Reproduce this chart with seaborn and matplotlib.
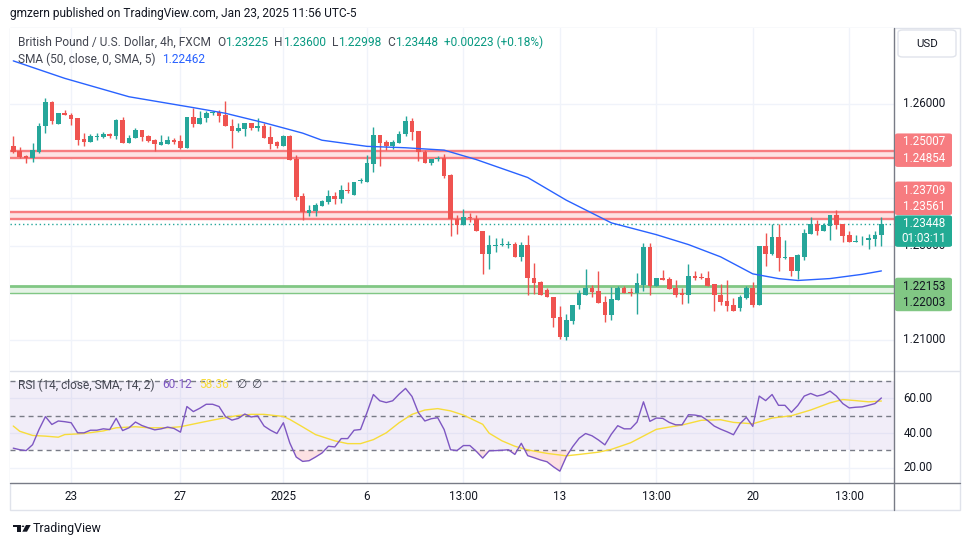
import numpy as np
import pandas as pd
import matplotlib
matplotlib.use("Agg")
import matplotlib.pyplot as plt
from matplotlib.patches import FancyBboxPatch, Rectangle, Polygon, Circle
from matplotlib.lines import Line2D
from matplotlib.transforms import blended_transform_factory
import seaborn as sns

# GBPUSD 4h candles, Dec 20 2024 - Jan 23 2025
opens = [
    1.2510, 1.2500, 1.2489, 1.2485, 1.2497, 1.2553, 1.2603, 1.2557, 1.2580, 1.2577,
    1.2569, 1.2525, 1.2519, 1.2529, 1.2530, 1.2537, 1.2532, 1.2565, 1.2517, 1.2528,
    1.2544, 1.2531, 1.2523, 1.2513, 1.2516, 1.2523, 1.2521, 1.2506, 1.2573, 1.2557,
    1.2571, 1.2580, 1.2582, 1.2577, 1.2554, 1.2542, 1.2546, 1.2559, 1.2548, 1.2554,
    1.2529, 1.2519, 1.2510, 1.2531, 1.2484, 1.2405, 1.2368, 1.2374, 1.2384, 1.2393,
    1.2405, 1.2399, 1.2417, 1.2407, 1.2436, 1.2434, 1.2473, 1.2533, 1.2519, 1.2511,
    1.2517, 1.2536, 1.2563, 1.2542, 1.2499, 1.2475, 1.2483, 1.2486, 1.2449, 1.2357,
    1.2344, 1.2361, 1.2357, 1.2331, 1.2281, 1.2300, 1.2301, 1.2302, 1.2304, 1.2275,
    1.2302, 1.2232, 1.2222, 1.2205, 1.2192, 1.2148, 1.2107, 1.2140, 1.2175, 1.2196,
    1.2211, 1.2203, 1.2180, 1.2153, 1.2184, 1.2211, 1.2201, 1.2199, 1.2217, 1.2297,
    1.2214, 1.2232, 1.2230, 1.2209, 1.2199, 1.2196, 1.2236, 1.2234, 1.2232, 1.2218,
    1.2196, 1.2182, 1.2173, 1.2167, 1.2188, 1.2211, 1.2175, 1.2300, 1.2281, 1.2319,
    1.2274, 1.2276, 1.2247, 1.2276, 1.2325, 1.2346, 1.2331, 1.2342, 1.2365, 1.2346,
    1.2323, 1.2307, 1.2311, 1.2311, 1.2314, 1.23225]
highs = [
    1.2531, 1.2508, 1.2491, 1.2517, 1.2559, 1.2613, 1.2607, 1.2581, 1.2588, 1.2581,
    1.2571, 1.2538, 1.2537, 1.2538, 1.2540, 1.2539, 1.2567, 1.2573, 1.2533, 1.2549,
    1.2544, 1.2535, 1.2525, 1.2535, 1.2531, 1.2528, 1.2533, 1.2573, 1.2592, 1.2584,
    1.2584, 1.2585, 1.2588, 1.2607, 1.2567, 1.2559, 1.2559, 1.2559, 1.2569, 1.2559,
    1.2554, 1.2521, 1.2535, 1.2533, 1.2491, 1.2411, 1.2385, 1.2391, 1.2396, 1.2417,
    1.2413, 1.2429, 1.2434, 1.2434, 1.2443, 1.2491, 1.2550, 1.2533, 1.2523, 1.2523,
    1.2542, 1.2575, 1.2569, 1.2542, 1.2503, 1.2484, 1.2490, 1.2493, 1.2451, 1.2364,
    1.2377, 1.2368, 1.2364, 1.2331, 1.2323, 1.2316, 1.2316, 1.2309, 1.2307, 1.2307,
    1.2323, 1.2264, 1.2224, 1.2211, 1.2192, 1.2171, 1.2154, 1.2175, 1.2205, 1.2251,
    1.2217, 1.2247, 1.2194, 1.2213, 1.2215, 1.2215, 1.2211, 1.2241, 1.2306, 1.2306,
    1.2232, 1.2249, 1.2234, 1.2226, 1.2209, 1.2260, 1.2247, 1.2241, 1.2245, 1.2218,
    1.2218, 1.2228, 1.2188, 1.2196, 1.2215, 1.2222, 1.2300, 1.2327, 1.2346, 1.2346,
    1.2312, 1.2276, 1.2281, 1.2335, 1.2361, 1.2354, 1.2348, 1.2365, 1.2375, 1.2346,
    1.2331, 1.2323, 1.2321, 1.2325, 1.2331, 1.23600]
lows = [
    1.2496, 1.2485, 1.2475, 1.2477, 1.2495, 1.2538, 1.2558, 1.2557, 1.2576, 1.2555,
    1.2513, 1.2511, 1.2519, 1.2524, 1.2528, 1.2528, 1.2525, 1.2517, 1.2517, 1.2528,
    1.2521, 1.2519, 1.2500, 1.2513, 1.2516, 1.2516, 1.2504, 1.2506, 1.2552, 1.2557,
    1.2561, 1.2576, 1.2561, 1.2553, 1.2506, 1.2540, 1.2532, 1.2544, 1.2542, 1.2527,
    1.2504, 1.2506, 1.2510, 1.2481, 1.2396, 1.2353, 1.2363, 1.2363, 1.2384, 1.2387,
    1.2387, 1.2389, 1.2411, 1.2407, 1.2433, 1.2434, 1.2456, 1.2468, 1.2502, 1.2504,
    1.2517, 1.2531, 1.2523, 1.2479, 1.2475, 1.2471, 1.2479, 1.2443, 1.2321, 1.2325,
    1.2344, 1.2349, 1.2330, 1.2239, 1.2251, 1.2287, 1.2298, 1.2294, 1.2275, 1.2267,
    1.2195, 1.2197, 1.2195, 1.2191, 1.2128, 1.2103, 1.2100, 1.2133, 1.2165, 1.2196,
    1.2192, 1.2178, 1.2138, 1.2142, 1.2184, 1.2200, 1.2193, 1.2155, 1.2203, 1.2195,
    1.2214, 1.2228, 1.2208, 1.2190, 1.2176, 1.2178, 1.2228, 1.2230, 1.2215, 1.2161,
    1.2175, 1.2161, 1.2161, 1.2161, 1.2186, 1.2169, 1.2175, 1.2256, 1.2279, 1.2247,
    1.2272, 1.2236, 1.2230, 1.2270, 1.2325, 1.2323, 1.2331, 1.2312, 1.2335, 1.2308,
    1.2307, 1.2307, 1.2302, 1.2293, 1.2300, 1.22998]
closes = [
    1.2498, 1.2488, 1.2485, 1.2502, 1.2554, 1.2603, 1.2563, 1.2580, 1.2576, 1.2567,
    1.2523, 1.2519, 1.2531, 1.2531, 1.2537, 1.2532, 1.2565, 1.2517, 1.2528, 1.2544,
    1.2530, 1.2522, 1.2514, 1.2519, 1.2523, 1.2519, 1.2506, 1.2573, 1.2557, 1.2569,
    1.2580, 1.2582, 1.2575, 1.2553, 1.2542, 1.2548, 1.2559, 1.2548, 1.2554, 1.2527,
    1.2516, 1.2510, 1.2531, 1.2481, 1.2403, 1.2370, 1.2375, 1.2385, 1.2394, 1.2405,
    1.2399, 1.2417, 1.2416, 1.2434, 1.2438, 1.2475, 1.2533, 1.2517, 1.2511, 1.2519,
    1.2537, 1.2563, 1.2540, 1.2499, 1.2475, 1.2484, 1.2486, 1.2448, 1.2356, 1.2344,
    1.2360, 1.2359, 1.2330, 1.2281, 1.2302, 1.2302, 1.2304, 1.2304, 1.2275, 1.2302,
    1.2232, 1.2220, 1.2195, 1.2191, 1.2147, 1.2107, 1.2142, 1.2175, 1.2199, 1.2211,
    1.2201, 1.2178, 1.2153, 1.2186, 1.2211, 1.2200, 1.2199, 1.2220, 1.2297, 1.2214,
    1.2232, 1.2228, 1.2208, 1.2196, 1.2196, 1.2236, 1.2232, 1.2231, 1.2215, 1.2195,
    1.2180, 1.2171, 1.2161, 1.2192, 1.2211, 1.2175, 1.2300, 1.2281, 1.2319, 1.2274,
    1.2276, 1.2247, 1.2279, 1.2327, 1.2346, 1.2331, 1.2344, 1.2365, 1.2344, 1.2321,
    1.2307, 1.2310, 1.2312, 1.2316, 1.2323, 1.23448]

# SMA(50) read at some candles
sma_idx = [0, 8, 18, 28, 33, 39, 45, 48, 55, 61, 67, 72, 80, 86, 93, 100,
           105, 110, 115, 119, 122, 127, 132, 135]
sma_val = [1.2691, 1.2654, 1.2615, 1.2592, 1.2580, 1.2560, 1.2538, 1.2523,
           1.2510, 1.2507, 1.2502, 1.2482, 1.2444, 1.2396, 1.2348, 1.2323,
           1.2302, 1.2276, 1.2240, 1.2230, 1.2226, 1.2230, 1.2239, 1.22462]

# RSI(14), one value per candle
rsi = [
    31.3, 30.4, 29.9, 33.3, 42.0, 49.4, 44.9, 46.9, 46.5, 45.9,
    40.1, 40.1, 41.6, 41.6, 42.4, 42.0, 48.4, 41.4, 43.0, 46.3,
    44.3, 43.0, 41.8, 42.4, 43.4, 42.6, 40.5, 55.2, 52.3, 54.2,
    56.5, 56.5, 55.2, 49.4, 47.4, 48.4, 50.9, 49.2, 49.8, 44.0,
    41.6, 39.7, 45.9, 34.3, 26.2, 23.7, 24.1, 26.2, 28.5, 32.4,
    32.0, 36.8, 36.8, 41.6, 42.0, 51.7, 62.1, 58.5, 57.5, 58.5,
    62.3, 65.6, 61.0, 51.7, 46.9, 48.2, 48.8, 42.0, 30.4, 29.9,
    32.8, 32.8, 29.5, 25.6, 29.8, 29.9, 30.1, 30.4, 27.7, 34.1,
    27.0, 25.8, 24.5, 23.5, 20.6, 18.1, 26.4, 32.2, 37.0, 39.7,
    38.4, 36.0, 33.2, 39.3, 44.2, 42.4, 42.4, 46.3, 57.9, 46.7,
    48.6, 48.4, 46.1, 44.7, 44.7, 50.5, 50.3, 49.6, 47.1, 44.0,
    42.2, 40.7, 39.0, 45.3, 49.0, 43.8, 61.2, 58.6, 62.1, 55.9,
    55.9, 51.9, 55.8, 61.2, 62.7, 61.2, 62.1, 64.1, 61.2, 56.9,
    54.4, 54.8, 55.0, 55.9, 56.9, 60.12]

# SMA(14) of RSI, read at some candles
rsi_ma_idx = [0, 1, 3, 5, 7, 8, 11, 14, 16, 19, 21, 24, 26, 29, 31, 33, 35, 37, 39, 42,
              43, 45, 47, 50, 52, 54, 56, 58, 60, 62, 64, 66, 68, 70, 73, 74, 76, 78, 80, 83,
              86, 88, 91, 93, 96, 100, 102, 104, 107, 110, 112, 115, 118, 121, 124, 127, 129,
              131, 133, 135]
rsi_ma_val = [44.0, 41.0, 38.6, 38.2, 37.6, 39.1, 39.7, 41.2, 43.0, 43.6,
              43.0, 43.0, 43.6, 45.9, 47.4, 48.8, 50.1, 50.7, 50.7, 49.5,
              47.8, 43.5, 39.1, 35.5, 33.9, 33.9, 36.2, 40.1, 45.9, 50.7,
              53.2, 54.0, 52.7, 50.3, 45.0, 39.9, 35.5, 32.4, 30.3, 28.3,
              26.9, 27.7, 29.0, 30.6, 34.4, 42.1, 43.4, 44.6, 47.3, 47.6,
              46.1, 45.3, 48.6, 49.9, 53.2, 57.3, 59.2, 58.6, 57.9, 58.36]

tick_idx = [9, 26, 42, 55, 70, 85, 100, 115, 130]
tick_labels = ["23", "27", "2025", "6", "13:00", "13", "13:00", "20", "13:00"]

red_zone_1 = [1.25007, 1.24854]
red_zone_2 = [1.23709, 1.23561]
green_zone = [1.22153, 1.22003]
last_price = 1.23448
price_ticks = [1.21, 1.22, 1.23, 1.24, 1.25, 1.26]
price_labels_shown = [1.21, 1.23, 1.26]   # the others sit under the coloured tags
rsi_ticks = [20, 40, 60]

UP, DOWN = "#26a69a", "#ef5350"
TXT, GRID, LINE = "#131722", "#f0f3fa", "#787b86"

W, H = 970, 545
sns.set_theme(style="white")
plt.rcParams["font.family"] = ["Roboto", "DejaVu Sans"]

fig = plt.figure(figsize=(W / 100, H / 100), dpi=100)
fig.patch.set_facecolor("white")


def fx(x):
    return x / W


def fy(y):
    return 1 - y / H


ax = fig.add_axes([fx(10), fy(371), fx(894) - fx(10), fy(28) - fy(371)])
rax = fig.add_axes([fx(10), fy(483), fx(894) - fx(10), fy(371) - fy(483)])

for a in (ax, rax):
    a.set_facecolor("white")
    for s in a.spines.values():
        s.set_visible(False)
    a.set_xlim(-0.51, 136.96)
    a.set_xticks(tick_idx)
    a.tick_params(length=0, labelbottom=False, labelleft=False)
    a.grid(True, color=GRID, lw=1)
    a.set_axisbelow(True)

ax.set_ylim(1.20343, 1.27606)
ax.set_yticks(price_ticks)
rax.set_ylim(11.3, 75.6)
rax.set_yticks(rsi_ticks)

# ---- price pane ----
df = pd.DataFrame({"open": opens, "high": highs, "low": lows, "close": closes})
df["i"] = np.arange(len(df))
colors = np.where(df.close >= df.open, UP, DOWN)

ax.axhspan(red_zone_1[1], red_zone_1[0], color="#fde2e3", lw=0, zorder=1)
ax.axhspan(red_zone_2[1], red_zone_2[0], color="#fde2e3", lw=0, zorder=1)
ax.axhspan(green_zone[1], green_zone[0], color="#e5f3e6", lw=0, zorder=1)
for p in red_zone_1 + red_zone_2:
    ax.axhline(p, color="#f77c80", lw=1.7, zorder=2)
ax.axhline(green_zone[0], color="#81c784", lw=2, zorder=2)
ax.axhline(green_zone[1], color="#81c784", lw=1, zorder=2)
ax.axhline(last_price, color=UP, lw=1, ls=(0, (1, 2)), zorder=2)

ax.vlines(df.i, df.low, df.high, colors=colors, lw=1, zorder=3)
body_lo = np.minimum(df.open, df.close)
body_h = np.maximum((df.close - df.open).abs(), 0.00015)
ax.bar(df.i, body_h, bottom=body_lo, width=0.72, color=colors, lw=0, zorder=4)

sns.lineplot(x=sma_idx, y=sma_val, ax=ax, color="#2962ff", lw=1, zorder=5)

# ---- RSI pane ----
rsi_arr = np.array(rsi)
idx = np.arange(len(rsi))
rax.axhspan(30, 70, color="#7e57c2", alpha=0.1, lw=0, zorder=1)
for lvl in (70, 50, 30):
    rax.axhline(lvl, color=LINE, lw=1, ls=(0, (3.6, 2.9)), zorder=2)
rax.fill_between(idx, rsi_arr, 30, where=rsi_arr < 30, interpolate=True,
                 color="#f23645", alpha=0.15, lw=0, zorder=2)
sns.lineplot(x=rsi_ma_idx, y=rsi_ma_val, ax=rax, color="#f7dc3a", lw=1, zorder=3)
sns.lineplot(x=idx, y=rsi_arr, ax=rax, color="#7e57c2", lw=1, zorder=4)

for a in (ax, rax):
    a.set_xlabel("")
    a.set_ylabel("")

# ---- frame ----
fig.add_artist(Rectangle((fx(10), fy(510)), fx(960) - fx(10), fy(28) - fy(510),
                         transform=fig.transFigure, fill=False, ec="#e0e3eb", lw=1, zorder=0))
fig.add_artist(Line2D([fx(10), fx(960)], [fy(371), fy(371)], color="#e0e3eb", lw=1))
fig.add_artist(Line2D([fx(10), fx(960)], [fy(483), fy(483)], color=LINE, lw=1))
fig.add_artist(Line2D([fx(894), fx(894)], [fy(28), fy(510)], color=LINE, lw=1))

# x labels
bt = blended_transform_factory(rax.transData, fig.transFigure)
for i, lab in zip(tick_idx, tick_labels):
    fig.text(i, fy(497), lab, transform=bt, ha="center", va="center",
             fontsize=8.4, color=TXT)

# price scale labels
pt = blended_transform_factory(fig.transFigure, ax.transData)
for p in price_labels_shown:
    fig.text(fx(924), p, f"{p:.5f}", transform=pt, ha="center", va="center",
             fontsize=8.4, color=TXT, zorder=2)
rt = blended_transform_factory(fig.transFigure, rax.transData)
for v in rsi_ticks:
    fig.text(fx(918), v, f"{v:.2f}", transform=rt, ha="center", va="center",
             fontsize=8.4, color=TXT)


def py(p):
    # pixel row (from top) of a price on the main pane
    return H - ax.transData.transform((0, p))[1]


label_groups = [
    ([f"{red_zone_1[0]:.5f}", f"{red_zone_1[1]:.5f}"], py(red_zone_1[0]) - 8.8, "#f77c80", "white"),
    ([f"{red_zone_2[0]:.5f}", f"{red_zone_2[1]:.5f}"], py(red_zone_2[0]) - 22, "#f77c80", "white"),
    ([f"{last_price:.5f}", "01:03:11"], py(last_price) - 0.5, "#22ab94", "white"),
    ([f"{green_zone[0]:.5f}", f"{green_zone[1]:.5f}"], py(green_zone[0]) + 0.7, "#81c784", TXT),
]
for texts, top, bg, fg in label_groups:
    step = 16.5 if texts[1][0] == "1" else 14.5
    y0, y1 = top - 8.5, top + step * (len(texts) - 1) + 8.5
    fig.add_artist(FancyBboxPatch((fx(895), fy(y1)), fx(952) - fx(895), fy(y0) - fy(y1),
                                  boxstyle="round,pad=0,rounding_size=0.003",
                                  transform=fig.transFigure, fc=bg, ec="none", zorder=5))
    for k, s in enumerate(texts):
        fig.text(fx(924), fy(top + k * step), s, ha="center", va="center",
                 fontsize=8.4, color=fg, zorder=6)

# USD box
fig.add_artist(FancyBboxPatch((fx(898), fy(57)), fx(956) - fx(898), fy(30) - fy(57),
                              boxstyle="round,pad=0,rounding_size=0.005",
                              transform=fig.transFigure, fc="white", ec="#e0e3eb", lw=1))
fig.text(fx(927), fy(44), "USD", ha="center", va="center", fontsize=8.2, color=TXT)

# ---- header texts ----
renderer = fig.canvas.get_renderer()


def text_run(x, y, parts, size=8.6):
    for s, c in parts:
        if c is None:
            x += s
            continue
        t = fig.text(fx(x), fy(y), s, ha="left", va="center", fontsize=size, color=c)
        x += t.get_window_extent(renderer).width


GREY = "#434651"
TEAL = "#089981"
fig.text(fx(10), fy(14), "gmzern published on TradingView.com, Jan 23, 2025 11:56 UTC-5",
         ha="left", va="center", fontsize=8.6, color=TXT)
text_run(18, 42, [("British Pound / U.S. Dollar, 4h, FXCM", GREY), (6, None),
                  ("O", GREY), ("1.23225", TEAL), (6, None),
                  ("H", GREY), ("1.23600", TEAL), (6, None),
                  ("L", GREY), ("1.22998", TEAL), (6, None),
                  ("C", GREY), ("1.23448", TEAL), (6, None),
                  ("+0.00223 (+0.18%)", TEAL)])
text_run(18, 59, [("SMA (50, close, 0, SMA, 5)", GREY), (7, None), ("1.22462", "#2962ff")])
text_run(18, 385, [("RSI (14, close, SMA, 14, 2)", GREY), (8, None), ("60.12", "#7e57c2"),
                   (7, None), ("58.36", "#f7dc3a"), (7, None), ("\u2205", GREY),
                   (5, None), ("\u2205", GREY)])

# ---- TradingView logo ----
def px_poly(pts, **kw):
    fig.add_artist(Polygon([(fx(x), fy(y)) for x, y in pts], closed=True,
                           transform=fig.transFigure, **kw))


px_poly([(13.3, 525), (20.7, 525), (20.7, 531.7), (17.3, 531.7), (17.3, 527.3), (13.3, 527.3)],
        fc=TXT, ec="none")
fig.add_artist(Circle((fx(23), fy(526.3)), 1.3 / W, transform=fig.transFigure, fc=TXT, ec="none"))
px_poly([(26, 525), (30.7, 525), (27, 531.7), (22.3, 531.7)], fc=TXT, ec="none")
fig.text(fx(33), fy(528.5), "TradingView", ha="left", va="center", fontsize=8.9, color=TXT)

fig.savefig("out.png", dpi=100, facecolor="white")
